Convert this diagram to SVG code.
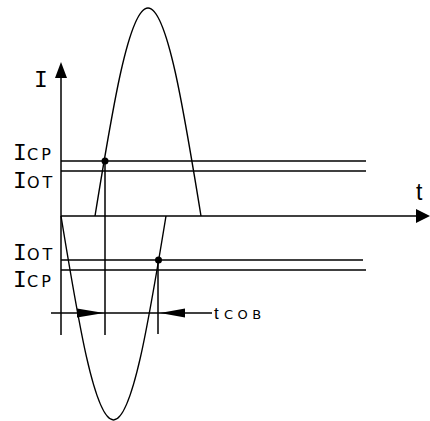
<svg xmlns="http://www.w3.org/2000/svg" width="430" height="421" viewBox="0 0 430 421">
<style>
.ln{stroke:#000;stroke-width:1.5;fill:none}
.cv{stroke:#000;stroke-width:1.4;fill:none}
.ah{fill:#000;stroke:none}
.lbl{font-family:"Liberation Mono","DejaVu Sans Mono",monospace;font-size:23px;fill:#000}
.sc{font-family:"DejaVu Sans","Liberation Sans",sans-serif;font-size:16px;text-transform:uppercase;letter-spacing:3px}
.sc2{font-family:"DejaVu Sans","Liberation Sans",sans-serif;font-size:13px;text-transform:uppercase;letter-spacing:4.5px}
.tax{font-family:"Liberation Sans","DejaVu Sans",sans-serif;font-size:23px;fill:#000}
</style>
<rect width="430" height="421" fill="#fff"/>
<g id="connectors">
  <line class="ln" x1="61" y1="72" x2="61" y2="335"/>
  <polygon class="ah" points="61,62 55,78 67,78"/>
  <line class="ln" x1="61" y1="216" x2="420" y2="216"/>
  <polygon class="ah" points="430,216 416,209 416,223"/>
  <line class="ln" x1="61" y1="161" x2="366" y2="161"/>
  <line class="ln" x1="61" y1="171" x2="366" y2="171"/>
  <line class="ln" x1="61" y1="260" x2="363" y2="260"/>
  <line class="ln" x1="61" y1="270" x2="366" y2="270"/>
  <line class="ln" x1="105" y1="161" x2="105" y2="335"/>
  <line class="ln" x1="158" y1="260" x2="158" y2="334"/>
  <line class="ln" x1="51" y1="313" x2="212" y2="313"/>
  <polygon class="ah" points="104,313 77,308.5 77,317.5"/>
  <polygon class="ah" points="160,313 185,308.5 185,317.5"/>
</g>
<g id="curve-upper">
  <path class="cv" d="M95,216 C112.3,109.4 128.8,8 148,8 C167.2,8 183.7,109.4 201,216"/>
  <circle cx="105" cy="161" r="3.5" fill="#000"/>
</g>
<g id="curve-lower">
  <path class="cv" d="M61,216 C78.1,320.5 94.5,420 113.5,420 C132.5,420 148.9,320.5 166,216"/>
  <circle cx="158.5" cy="260" r="3.5" fill="#000"/>
</g>
<g id="labels">
  <text class="lbl" x="34" y="87">I</text>
  <text class="tax" x="416" y="200">t</text>
  <text class="lbl" x="13" y="160">I<tspan class="sc" x="27">ср</tspan></text>
  <text class="lbl" x="13" y="188">I<tspan class="sc" x="27">от</tspan></text>
  <text class="lbl" x="13" y="260">I<tspan class="sc" x="27">от</tspan></text>
  <text class="lbl" x="13" y="287">I<tspan class="sc" x="27">ср</tspan></text>
  <text class="tax" x="214" y="319" style="font-size:17px">t<tspan class="sc2" x="224">сов</tspan></text>
</g>
</svg>
